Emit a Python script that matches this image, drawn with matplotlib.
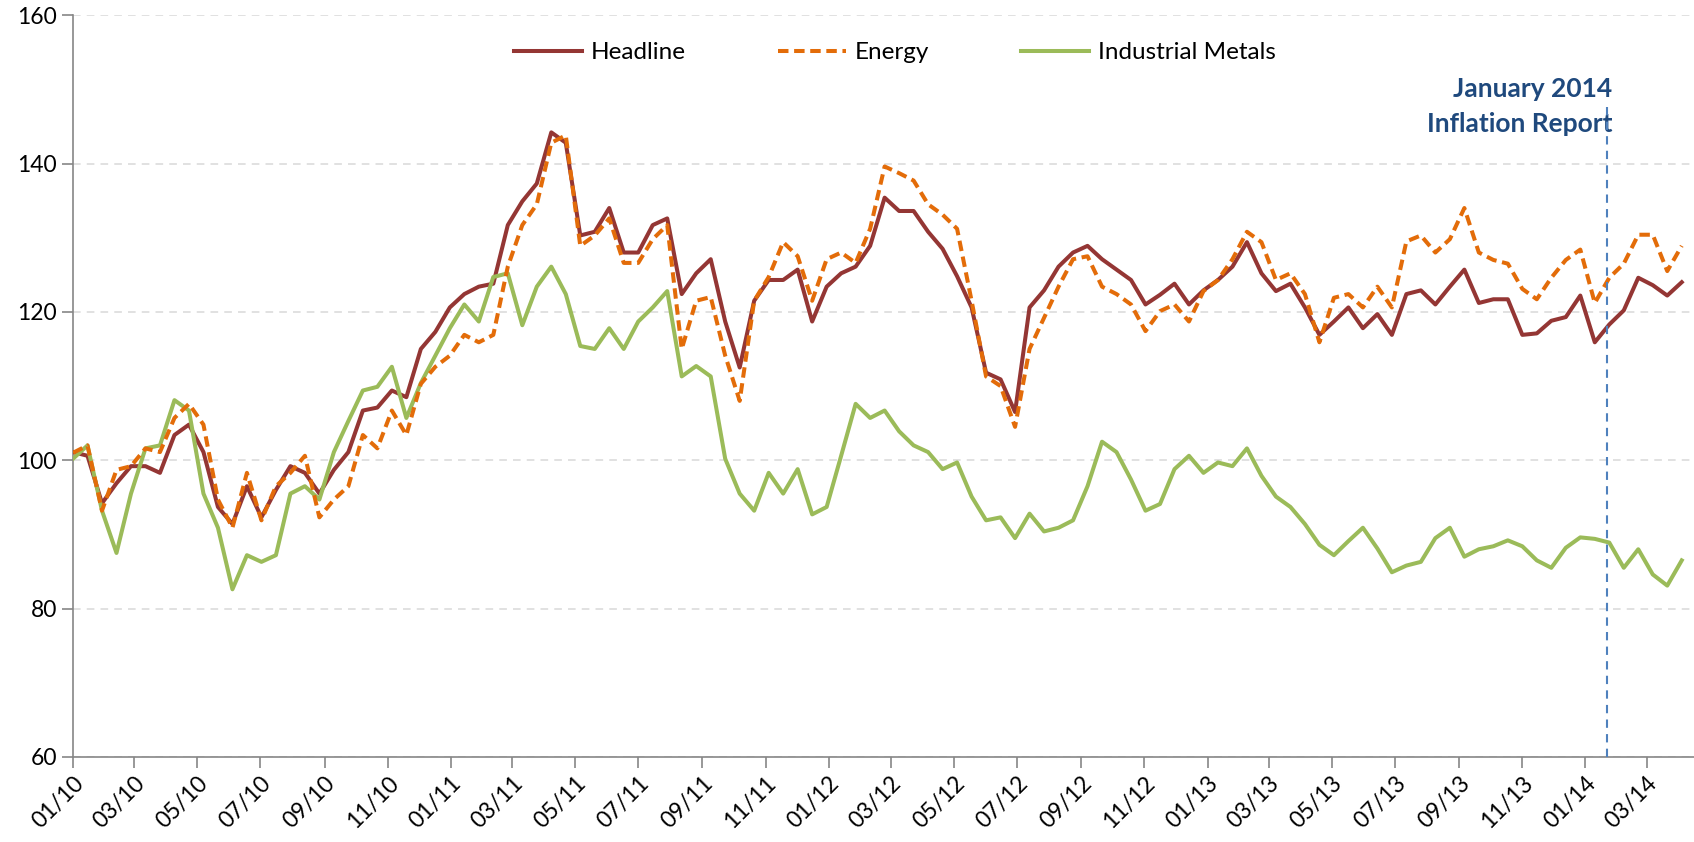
import numpy as np
import pandas as pd
import matplotlib
matplotlib.use("Agg")
import matplotlib.pyplot as plt
import matplotlib.dates as mdates

plt.rcParams['font.family'] = ['Lato', 'DejaVu Sans']

# fortnightly index values (Jan 2010 = 100)
dates = pd.date_range("2010-01-01", periods=112, freq="14D")

headline = [101.1, 100.6, 94.2, 96.9, 99.2, 99.2, 98.3, 103.4, 104.8, 101.1,
            93.7, 91.4, 96.5, 92.3, 96.0, 99.2, 98.3, 95.5, 98.7, 101.1,
            106.7, 107.1, 109.4, 108.5, 115.0, 117.3, 120.6, 122.4, 123.4, 123.8,
            131.7, 134.9, 137.3, 144.2, 142.8, 130.3, 130.8, 134.0, 128.0,
            128.0, 131.7, 132.6, 122.4, 125.2, 127.1, 118.7, 112.5, 121.5, 124.3,
            124.3, 125.7, 118.7, 123.4, 125.2, 126.1, 128.9, 135.4, 133.6,
            133.6, 130.8, 128.5, 124.8, 120.6, 111.8, 110.9, 106.5, 120.6, 122.9,
            126.1, 128.0, 128.9, 127.1, 125.7, 124.3, 121.0, 122.3, 123.8, 121.0,
            122.9, 124.3, 126.1, 129.4, 125.2, 122.8, 123.8, 120.6, 116.9, 118.7,
            120.6, 117.8, 119.7, 116.9, 122.4, 122.9, 121.0, 123.4, 125.7,
            121.2, 121.7, 121.7, 116.9, 117.1, 118.8, 119.3, 122.2, 115.9, 118.3,
            120.2, 124.6, 123.6, 122.2, 124.0]

energy = [101.0, 102.0, 93.2, 98.7, 99.2, 101.6, 101.1, 105.7, 107.6, 104.8,
          94.7, 90.9, 98.3, 91.9, 96.5, 98.3, 100.6, 92.3, 94.7, 96.5,
          103.4, 101.6, 106.7, 103.4, 110.3, 112.6, 114.1, 116.9, 115.9, 116.9,
          126.1, 131.7, 134.5, 142.8, 143.8, 128.9, 130.3, 132.6, 126.6,
          126.6, 129.8, 131.7, 115.0, 121.5, 122.0, 114.1, 108.0, 121.5, 124.7,
          129.4, 127.5, 121.5, 127.1, 128.0, 126.6, 131.2, 139.6, 138.7,
          137.7, 134.5, 133.1, 131.2, 121.5, 111.3, 110.0, 104.5, 115.0, 119.2,
          123.4, 127.1, 127.5, 123.4, 122.4, 121.0, 117.4, 120.1, 121.0, 118.7,
          122.8, 124.3, 127.1, 130.8, 129.4, 124.3, 125.2, 122.4, 115.9, 121.9,
          122.4, 120.6, 123.4, 120.6, 129.5, 130.3, 128.0, 129.8, 134.0,
          128.0, 127.0, 126.5, 123.1, 121.7, 124.6, 127.0, 128.4, 121.2, 124.6,
          126.5, 130.4, 130.4, 125.5, 128.9]

metals = [100.2, 102.0, 93.2, 87.5, 95.5, 101.6, 102.0, 108.1, 106.7, 95.5,
          90.9, 82.6, 87.2, 86.3, 87.2, 95.5, 96.5, 94.7, 101.1, 105.3,
          109.4, 109.9, 112.6, 105.7, 110.4, 114.1, 117.8, 121.0, 118.7, 124.7,
          125.2, 118.2, 123.4, 126.1, 122.4, 115.4, 115.0, 117.8, 115.0,
          118.7, 120.6, 122.8, 111.3, 112.7, 111.3, 100.2, 95.5, 93.2, 98.3,
          95.5, 98.8, 92.7, 93.7, 100.6, 107.6, 105.7, 106.7, 103.9,
          102.0, 101.1, 98.8, 99.7, 95.1, 91.9, 92.3, 89.5, 92.8, 90.4,
          90.9, 91.9, 96.5, 102.5, 101.1, 97.4, 93.2, 94.1, 98.8, 100.6,
          98.3, 99.7, 99.2, 101.6, 97.9, 95.1, 93.7, 91.4, 88.6, 87.2,
          89.1, 90.9, 88.1, 84.9, 85.8, 86.3, 89.5, 90.9, 87.0,
          88.0, 88.4, 89.2, 88.4, 86.5, 85.5, 88.2, 89.6, 89.4, 88.9,
          85.5, 88.0, 84.6, 83.1, 86.5]

report_date = pd.Timestamp("2014-01-22")

fig = plt.figure(figsize=(16.94, 8.42), dpi=100)
ax = fig.add_axes([0.0431, 0.101, 0.957, 0.881])

ax.plot(dates, headline, color="#943634", lw=2.9, label="Headline", zorder=3)
ax.plot(dates, energy, color="#E36C09", lw=2.9, ls=(0, (2.6, 1.4)), label="Energy", zorder=4)
ax.plot(dates, metals, color="#9BBB59", lw=2.9, label="Industrial Metals", zorder=3)

ax.vlines(report_date, 60, 148, color="#4F81BD", lw=1.5, ls=(0, (4, 3)), zorder=5)
txt_x = report_date + pd.Timedelta(days=5)
ax.text(txt_x, 150.1, "January 2014", color="#1F497D",
        fontsize=19, fontweight="bold", ha="right", va="center")
ax.text(txt_x, 145.3, "Inflation Report", color="#1F497D",
        fontsize=19, fontweight="bold", ha="right", va="center")

ax.set_ylim(60, 160)
ax.set_yticks(np.arange(60, 161, 20))
ax.set_xlim(pd.Timestamp("2010-01-01"), pd.Timestamp("2014-04-16"))
ax.xaxis.set_major_locator(mdates.MonthLocator(bymonth=[1, 3, 5, 7, 9, 11]))
ax.xaxis.set_major_formatter(mdates.DateFormatter("%m/%y"))
plt.setp(ax.get_xticklabels(), rotation=45, ha="right", rotation_mode="anchor")

ax.grid(axis="y", color="#D9D9D9", ls=(0, (5, 4)), lw=1.1)
ax.set_axisbelow(True)
for s in ["top", "right"]:
    ax.spines[s].set_visible(False)
for s in ["left", "bottom"]:
    ax.spines[s].set_color("#868686")
    ax.spines[s].set_linewidth(1.2)
ax.tick_params(axis="both", colors="#868686", length=8, width=1.2, labelsize=16.5,
               labelcolor="black")

leg = ax.legend(loc="center", bbox_to_anchor=(0.507, 0.949), ncol=3, frameon=False,
                fontsize=17.5, handlelength=2.8, handletextpad=0.35, columnspacing=3.8)

fig.savefig("out.png", dpi=100)
